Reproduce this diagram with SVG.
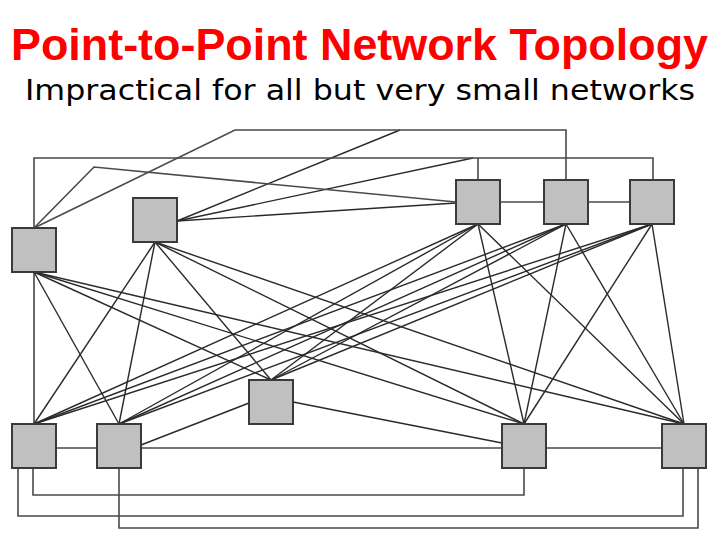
<svg xmlns="http://www.w3.org/2000/svg" width="720" height="540" viewBox="0 0 720 540">
<style>
.title{font-family:"Liberation Sans","DejaVu Sans",sans-serif;fill:#ff0000;font-size:45px;font-weight:bold}
.sub{font-family:"DejaVu Sans","Liberation Sans",sans-serif;fill:#000;font-size:29px}
.node{fill:#c0c0c0;stroke:#3a3a3a;stroke-width:2}
.mesh line{stroke:#2a2a2a;stroke-width:1.4}
.wire{fill:none;stroke:#4a4a4a;stroke-width:1.6}
</style>
<rect width="720" height="540" fill="#ffffff"/>
<text class="title" x="11" y="60" textLength="697" lengthAdjust="spacingAndGlyphs">Point-to-Point Network Topology</text>
<text class="sub" x="25" y="100" textLength="670" lengthAdjust="spacingAndGlyphs">Impractical for all but very small networks</text>
<g id="connectors">
<g class="mesh">
<line x1="34" y1="272" x2="271" y2="380"/>
<line x1="34" y1="272" x2="34" y2="424"/>
<line x1="34" y1="272" x2="119" y2="424"/>
<line x1="34" y1="272" x2="524" y2="424"/>
<line x1="34" y1="272" x2="684" y2="424"/>
<line x1="155" y1="242" x2="271" y2="380"/>
<line x1="155" y1="242" x2="34" y2="424"/>
<line x1="155" y1="242" x2="119" y2="424"/>
<line x1="155" y1="242" x2="524" y2="424"/>
<line x1="155" y1="242" x2="684" y2="424"/>
<line x1="478" y1="224" x2="271" y2="380"/>
<line x1="478" y1="224" x2="34" y2="424"/>
<line x1="478" y1="224" x2="119" y2="424"/>
<line x1="478" y1="224" x2="524" y2="424"/>
<line x1="478" y1="224" x2="684" y2="424"/>
<line x1="566" y1="224" x2="271" y2="380"/>
<line x1="566" y1="224" x2="34" y2="424"/>
<line x1="566" y1="224" x2="119" y2="424"/>
<line x1="566" y1="224" x2="524" y2="424"/>
<line x1="566" y1="224" x2="684" y2="424"/>
<line x1="652" y1="224" x2="271" y2="380"/>
<line x1="652" y1="224" x2="34" y2="424"/>
<line x1="652" y1="224" x2="119" y2="424"/>
<line x1="652" y1="224" x2="524" y2="424"/>
<line x1="652" y1="224" x2="684" y2="424"/>
<line x1="177" y1="221" x2="400" y2="130"/>
<line x1="177" y1="221" x2="473" y2="158"/>
<line x1="177" y1="221" x2="456" y2="203"/>
<line x1="141" y1="445" x2="249" y2="403"/>
<line x1="293" y1="402" x2="502" y2="443"/>
</g>
<polyline class="wire" points="34,228 34,158 653,158 653,180"/>
<polyline class="wire" points="478,180 478,158"/>
<polyline class="wire" points="566,180 566,130 235,130 34,228"/>
<polyline class="wire" points="34,228 94,167 456,202"/>
<line class="wire" x1="500" y1="202" x2="544" y2="202"/>
<line class="wire" x1="588" y1="202" x2="630" y2="202"/>
<line class="wire" x1="56" y1="448" x2="97" y2="448"/>
<line class="wire" x1="141" y1="448" x2="502" y2="448"/>
<line class="wire" x1="546" y1="448" x2="662" y2="448"/>
<polyline class="wire" points="33,468 33,495 524,495 524,468"/>
<polyline class="wire" points="18,468 18,516 683,516 683,468"/>
<polyline class="wire" points="119,468 119,528 698,528 698,468"/>
</g>
<g id="nodeA"><rect class="node" x="12" y="228" width="44" height="44"/></g>
<g id="nodeB"><rect class="node" x="133" y="198" width="44" height="44"/></g>
<g id="nodeC"><rect class="node" x="456" y="180" width="44" height="44"/></g>
<g id="nodeD"><rect class="node" x="544" y="180" width="44" height="44"/></g>
<g id="nodeE"><rect class="node" x="630" y="180" width="44" height="44"/></g>
<g id="nodeF"><rect class="node" x="249" y="380" width="44" height="44"/></g>
<g id="nodeG"><rect class="node" x="12" y="424" width="44" height="44"/></g>
<g id="nodeH"><rect class="node" x="97" y="424" width="44" height="44"/></g>
<g id="nodeI"><rect class="node" x="502" y="424" width="44" height="44"/></g>
<g id="nodeJ"><rect class="node" x="662" y="424" width="44" height="44"/></g>
</svg>
